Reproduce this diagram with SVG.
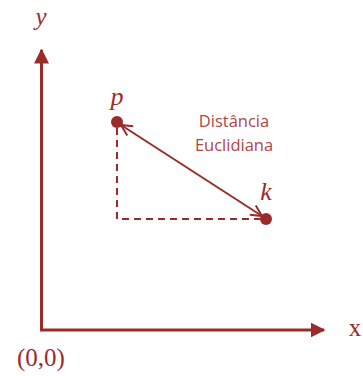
<svg xmlns="http://www.w3.org/2000/svg" width="363" height="376" viewBox="0 0 363 376">
<style>
.ax{stroke:#9b2b2b;stroke-width:3;fill:none}
.dash{stroke:#9b2b2b;stroke-width:2;stroke-dasharray:7,5;fill:none}
.ln{stroke:#9b2b2b;stroke-width:2;fill:none}
.dot{fill:#9b2b2b}
.var{font-family:"Liberation Serif",serif;font-style:italic;fill:#9b2b2b}
.lab{font-family:"Liberation Serif",serif;fill:#9b2b2b}
.desc{font-family:"Open Sans","Liberation Sans",sans-serif;font-size:16.5px;fill:#b04545;text-anchor:middle}
</style>
<defs>
<marker id="tri" viewBox="0 0 10 10" refX="9" refY="5" markerWidth="5" markerHeight="5" orient="auto" markerUnits="strokeWidth">
<path d="M0,0 L10,5 L0,10 Z" fill="#9b2b2b"/>
</marker>
<marker id="open" viewBox="0 0 14 14" refX="13" refY="7" markerWidth="14" markerHeight="14" orient="auto-start-reverse" markerUnits="userSpaceOnUse">
<path d="M2,1.5 L13,7 L2,12.5" fill="none" stroke="#9b2b2b" stroke-width="2"/>
</marker>
</defs>
<g id="axes">
<path class="ax" d="M41.5,330 V50" marker-end="url(#tri)"/>
<path class="ax" d="M40,330 H324" marker-end="url(#tri)"/>
</g>
<g id="connectors">
<path class="dash" d="M117,128 V219 H262"/>
<path class="ln" d="M121,125 L262,216" marker-start="url(#open)" marker-end="url(#open)"/>
</g>
<g id="node-p">
<circle class="dot" cx="117" cy="122" r="6"/>
<text class="var" x="117" y="105" font-size="26" text-anchor="middle">p</text>
</g>
<g id="node-k">
<circle class="dot" cx="266" cy="219" r="6"/>
<text class="var" x="266" y="200" font-size="26" text-anchor="middle">k</text>
</g>
<g id="labels">
<text class="var" x="41" y="25" font-size="25" text-anchor="middle">y</text>
<text class="lab" x="355" y="336" font-size="25" text-anchor="middle">x</text>
<text class="lab" x="41" y="366" font-size="25" text-anchor="middle">(0,0)</text>
<text class="desc" x="234" y="127">Distância</text>
<text class="desc" x="234" y="151">Euclidiana</text>
</g>
</svg>
